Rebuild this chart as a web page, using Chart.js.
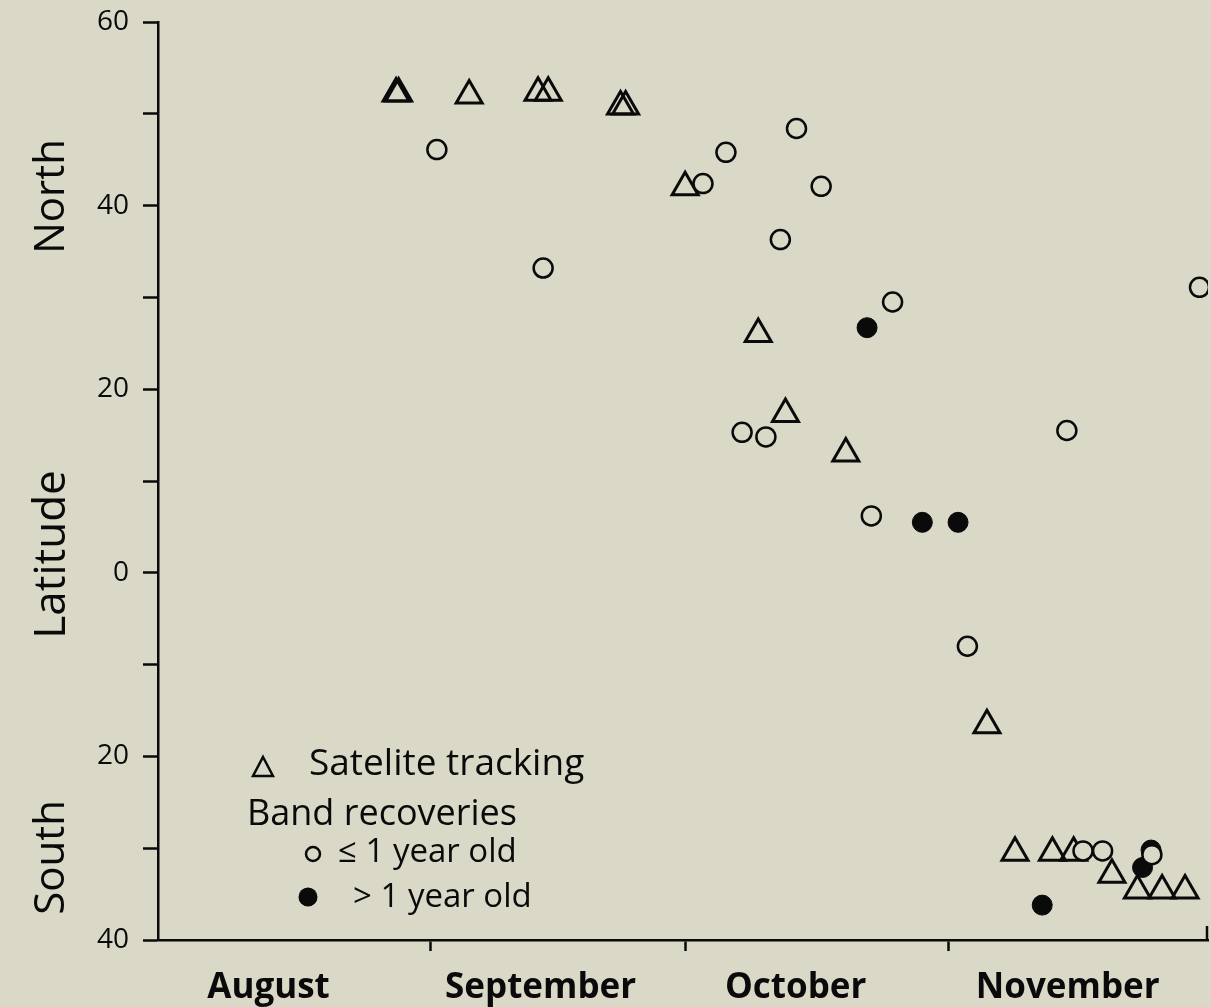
<!DOCTYPE html>
<html lang="en">
<head>
    <meta charset="UTF-8">
    <title>Latitude by month</title>
    <script src="https://cdn.jsdelivr.net/npm/chart.js"></script>
    <style>
        html, body { margin: 0; padding: 0; background: #dad9c8; overflow: hidden; }
        #wrap { position: absolute; left: 0; top: 0; width: 1211px; height: 1007px; }
        canvas { display: block; }
    </style>
</head>
<body>
    <div id="wrap"><canvas id="migrationChart"></canvas></div>

    <script>
        // x = days since 1 August, y = latitude (negative = south)
        const satX = [27.0, 27.3, 35.6, 43.7, 44.9, 53.4, 54.0, 61.0, 69.6, 72.8, 79.9, 96.5, 99.8, 104.2, 106.7, 111.2, 114.2, 117.1, 119.8];
        const satY = [52.2, 52.2, 52.0, 52.3, 52.3, 50.8, 50.8, 42.0, 26.0, 17.3, 13.0, -16.6, -30.5, -30.5, -30.5, -32.9, -34.6, -34.6, -34.6];

        const youngX = [31.8, 44.3, 63.1, 65.8, 74.1, 77.0, 72.2, 85.4, 67.7, 70.5, 82.9, 94.2, 105.9, 121.5, 107.8, 110.1, 115.9];
        const youngY = [46.1, 33.2, 42.4, 45.8, 48.4, 42.1, 36.3, 29.5, 15.3, 14.8, 6.2, -8.0, 15.5, 31.1, -30.3, -30.3, -30.7];

        const oldX = [82.4, 88.9, 93.1, 103.0, 114.8, 115.8];
        const oldY = [26.7, 5.5, 5.5, -36.2, -32.1, -30.2];

        const monthNames = ['August', 'September', 'October', 'November'];
        const monthLabelAt = [12, 44, 74, 106];
        const monthBounds = [31, 61, 92];

        const paper = '#dad9c8';
        const ink = '#0a0a0a';
        const font = "'Open Sans', sans-serif";

        const toPoints = (xs, ys) => xs.map((x, i) => ({ x: x, y: ys[i] }));

        // paper colour behind everything
        const paperPlugin = {
            id: 'paper',
            beforeDraw(chart) {
                const c = chart.ctx;
                c.save();
                c.fillStyle = paper;
                c.fillRect(0, 0, chart.width, chart.height);
                c.restore();
            }
        };

        // North / Latitude / South side titles, end tick, and the in-plot key
        const decorPlugin = {
            id: 'decor',
            afterDraw(chart) {
                const c = chart.ctx;
                const ys = chart.scales.y;
                const xs = chart.scales.x;
                const area = chart.chartArea;
                c.save();
                c.fillStyle = ink;
                c.textAlign = 'center';
                c.textBaseline = 'middle';
                [['North', 41, 42], ['Latitude', 2, 44], ['South', -31, 42]].forEach(([t, v, size]) => {
                    c.save();
                    c.font = size + 'px ' + font;
                    c.translate(52, ys.getPixelForValue(v));
                    c.rotate(-Math.PI / 2);
                    c.fillText(t, 0, 0);
                    c.restore();
                });

                // small upward tick at the right end of the x axis
                c.strokeStyle = ink;
                c.lineWidth = 2.5;
                c.beginPath();
                c.moveTo(xs.getPixelForValue(xs.max) - 1, area.bottom);
                c.lineTo(xs.getPixelForValue(xs.max) - 1, area.bottom - 14);
                c.stroke();

                // key
                const left = area.left;
                const bottom = area.bottom;
                c.textAlign = 'left';
                c.lineWidth = 2.5;
                const tx = left + 105, ty = bottom - 173;
                c.beginPath();
                c.moveTo(tx, ty - 10);
                c.lineTo(tx + 10, ty + 9);
                c.lineTo(tx - 10, ty + 9);
                c.closePath();
                c.stroke();
                c.font = '37px ' + font;
                c.fillText('Satelite tracking', left + 151, ty - 3);
                c.font = '36px ' + font;
                c.fillText('Band recoveries', left + 89, bottom - 125);
                c.beginPath();
                c.arc(left + 155, bottom - 86, 7, 0, Math.PI * 2);
                c.stroke();
                c.font = '33px ' + font;
                c.fillText('\u2264 1 year old', left + 180, bottom - 87);
                c.beginPath();
                c.arc(left + 150, bottom - 43, 9.5, 0, Math.PI * 2);
                c.fill();
                c.fillText('> 1 year old', left + 195, bottom - 42);
                c.restore();
            }
        };

        const ctx = document.getElementById('migrationChart').getContext('2d');
        new Chart(ctx, {
            type: 'scatter',
            data: {
                datasets: [
                    {
                        label: '\u2264 1 year old',
                        data: toPoints(youngX, youngY),
                        pointStyle: 'circle',
                        pointRadius: 9.5,
                        borderWidth: 2.5,
                        borderColor: ink,
                        backgroundColor: paper,
                        order: 0
                    },
                    {
                        label: '> 1 year old',
                        data: toPoints(oldX, oldY),
                        pointStyle: 'circle',
                        pointRadius: 10,
                        borderWidth: 1,
                        borderColor: ink,
                        backgroundColor: ink,
                        order: 1
                    },
                    {
                        label: 'Satelite tracking',
                        data: toPoints(satX, satY),
                        pointStyle: 'triangle',
                        pointRadius: 15,
                        borderWidth: 3,
                        borderColor: ink,
                        backgroundColor: 'rgba(0,0,0,0)',
                        order: 2
                    }
                ]
            },
            options: {
                responsive: true,
                maintainAspectRatio: false,
                animation: false,
                layout: { autoPadding: false, padding: { top: 22, right: 3, left: 0, bottom: 0 } },
                plugins: {
                    legend: { display: false },
                    tooltip: { enabled: false }
                },
                scales: {
                    x: {
                        type: 'linear',
                        min: -1,
                        max: 122.5,
                        afterFit: (scale) => {
                            scale.height = 67;
                            scale.paddingLeft = 0;
                            scale.paddingRight = 0;
                        },
                        afterBuildTicks: (scale) => {
                            scale.ticks = monthBounds.concat(monthLabelAt)
                                .sort((a, b) => a - b)
                                .map(v => ({ value: v }));
                        },
                        border: { display: true, color: ink, width: 2.5 },
                        grid: {
                            drawOnChartArea: false,
                            drawTicks: true,
                            tickLength: 11,
                            tickWidth: 2.5,
                            tickColor: (c) => monthBounds.includes(c.tick && c.tick.value) ? ink : 'rgba(0,0,0,0)'
                        },
                        ticks: {
                            autoSkip: false,
                            maxRotation: 0,
                            padding: 16,
                            color: ink,
                            font: { family: font, size: 35, weight: 'bold' },
                            callback: (v) => {
                                const i = monthLabelAt.indexOf(v);
                                return i >= 0 ? monthNames[i] : '';
                            }
                        }
                    },
                    y: {
                        min: -40,
                        max: 60,
                        afterFit: (scale) => {
                            scale.width = 158;
                            scale.paddingTop = 0;
                            scale.paddingBottom = 0;
                        },
                        border: { display: true, color: ink, width: 2.5 },
                        grid: {
                            drawOnChartArea: false,
                            drawTicks: true,
                            tickLength: 15,
                            tickWidth: 2.5,
                            tickColor: ink
                        },
                        ticks: {
                            stepSize: 10,
                            padding: 14,
                            color: ink,
                            font: { family: font, size: 28 },
                            callback: (v) => (v % 20 === 0 ? String(Math.abs(v)) : '')
                        }
                    }
                }
            },
            plugins: [paperPlugin, decorPlugin]
        });
    </script>
</body>
</html>
